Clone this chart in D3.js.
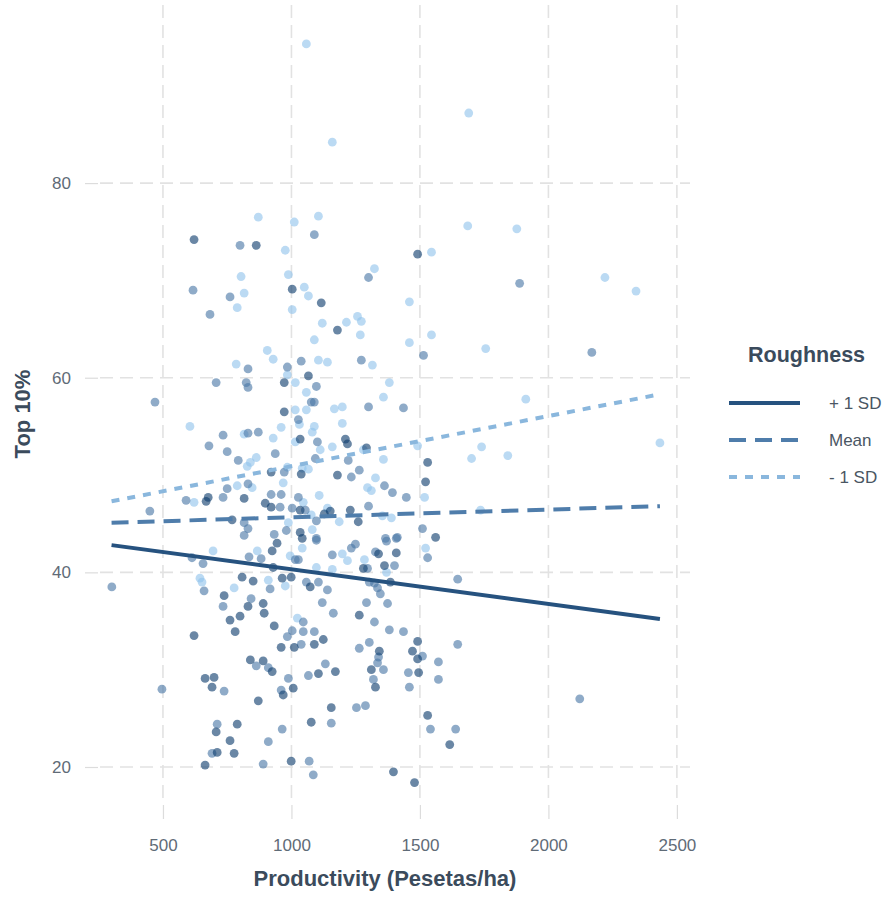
<!DOCTYPE html>
<html>
<head>
<meta charset="utf-8">
<script src="https://cdn.jsdelivr.net/npm/d3@7"></script>
<style>
body { margin: 0; background: #fff; }
text { font-family: "Liberation Sans", Arial, sans-serif; }
</style>
</head>
<body>
<svg id="chart" width="889" height="899"></svg>
<script>
var xTicks = [500, 1000, 1500, 2000, 2500];
var yTicks = [20, 40, 60, 80];
var groups = ["+ 1 SD", "Mean", "- 1 SD"];

// [productivity, top 10%]
var plusPts = [[621,74.2],[863,73.6],[1491,72.7],[1003,69.1],[972,59.5],[972,56.5],[921,50.3],[676,47.7],[668,47.3],[816,47.6],[898,47.1],[921,46.7],[769,45.4],
  [1116,67.7],[1179,64.9],[1066,60.2],[1034,53.7],[1210,53.7],[1218,53.2],[1292,52.8],[1530,51.3],[1038,50.1],[1179,50.0],[1522,49.3],[1034,46.4],[1151,46.3],[1128,46.0],[1229,46.4],[1260,45.2],[1034,44.1],[1561,43.6],
  [925,42.2],[944,43.0],[929,40.5],[808,39.5],[851,39.1],[964,39.4],[999,39.5],[738,37.6],[831,36.5],[890,36.8],[894,35.8],[800,35.5],[761,35.1],[781,33.9],[933,34.5],[621,33.5],[960,32.3],[1011,32.3],[840,31.0],[890,30.9],[925,29.8],[664,29.1],[699,29.2],[691,28.2],[871,26.8],[968,27.4],[1007,28.1],[707,23.6],[789,24.4],[761,22.7],[711,21.5],[777,21.4],[664,20.2],[999,20.6],
  [1042,43.5],[1280,40.4],[1339,41.9],[1408,42.0],[1362,40.7],[1385,39.0],[1073,38.5],[1264,35.6],[1124,33.1],[1089,32.6],[1342,31.9],[1311,30.0],[1327,28.2],[1491,32.9],[1471,31.9],[1491,31.1],[1495,29.7],[1105,29.6],[1171,29.8],[1155,26.1],[1077,24.6],[1530,25.3],[1616,22.3],[1397,19.5],[1479,18.4]];

var meanPts = [[800,73.6],[1089,74.7],[1300,70.3],[1888,69.7],[617,69.0],[683,66.5],[761,68.3],[831,60.9],[984,61.1],[707,59.5],[824,59.5],[831,59.0],[469,57.5],[734,54.1],[831,54.3],[871,54.4],[679,53.0],[750,52.4],[793,51.5],[937,52.2],[972,50.3],[831,49.1],[750,48.6],[734,47.7],[590,47.4],[921,48.0],[960,48.0],[956,46.7],[1003,46.6],[449,46.3],[816,45.1],[831,44.5],[816,43.8],[933,43.9],[980,44.3],
  [1514,62.3],[1038,61.7],[1272,61.8],[1097,59.1],[1077,57.5],[1089,57.5],[1300,57.0],[1436,56.9],[1027,55.7],[1101,53.4],[1093,51.7],[1221,51.5],[1233,49.8],[1264,50.5],[1362,48.9],[1393,48.2],[1447,47.7],[1027,47.7],[1300,46.8],[1054,46.4],[1097,45.3],[1510,44.5],[1412,43.6],[1366,43.5],[1097,43.5],
  [2169,62.6],
  [613,41.5],[656,40.9],[835,41.6],[882,41.4],[1015,41.3],[301,38.5],[660,38.1],[917,38.3],[734,36.5],[843,37.3],[984,33.4],[1003,34.0],[863,30.4],[910,30.2],[738,27.8],[496,28.0],[988,29.1],[960,27.9],[711,24.4],[910,22.6],[964,23.9],[691,21.4],[890,20.3],
  [1097,43.3],[1027,41.3],[1159,41.8],[1233,42.5],[1249,42.9],[1296,40.4],[1327,42.1],[1370,43.2],[1408,43.5],[1401,40.7],[1530,41.5],[1647,39.3],[1303,39.0],[1323,38.9],[1335,38.4],[1346,37.8],[1058,39.0],[1105,39.0],[1140,38.2],[1120,36.9],[1163,35.8],[1292,36.9],[1374,36.8],[1323,34.9],[1381,34.1],[1436,33.9],[1046,34.9],[1046,33.9],[1089,33.9],[1038,32.6],[1264,32.2],[1303,32.8],[1339,31.3],[1335,30.7],[1358,30.0],[1319,29.0],[1510,31.4],[1455,29.7],[1459,28.2],[1572,30.8],[1572,29.0],[1647,32.6],[1066,29.4],[1132,30.6],[1155,24.5],[1253,26.1],[1288,26.3],[1541,23.9],[1639,23.9],[1069,20.6],[1085,19.2],
  [2122,27.0]];

var minusPts = [[871,76.5],[1011,76.0],[976,73.1],[804,70.4],[988,70.6],[1058,94.3],[1159,84.2],[1690,87.2],[1686,75.6],[1105,76.6],[1545,72.9],[1323,71.2],[1877,75.3],[2220,70.3],[2341,68.9],
  [816,68.7],[789,67.2],[1003,67.0],[906,62.8],[929,61.9],[785,61.4],[984,60.3],[1015,59.5],[1015,56.7],[605,55.0],[816,54.2],[960,54.9],[929,53.8],[1015,53.4],[863,51.8],[840,51.3],[828,50.9],[984,50.8],[968,49.2],[789,48.9],[847,48.7],[621,47.2],[988,45.1],
  [1050,69.3],[1066,68.4],[1459,67.8],[1120,65.6],[1214,65.7],[1257,66.3],[1272,65.8],[1268,64.4],[1545,64.4],[1459,63.6],[1756,63.0],[1089,63.9],[1105,61.8],[1140,61.6],[1315,61.3],[1381,59.5],[1058,58.5],[1358,58.0],[1058,56.7],[1167,56.8],[1198,57.0],[1031,55.2],[1198,55.3],[1089,55.0],[1081,54.4],[1112,52.6],[1159,52.9],[1280,52.6],[1491,53.0],[1358,51.6],[1740,52.9],[1701,51.7],[1042,50.7],[1066,50.6],[1327,49.7],[1296,48.7],[1311,48.4],[1518,47.7],[1108,47.9],[1046,47.2],[1140,46.6],[1077,45.9],[1186,45.2],[1354,45.8],[1389,45.6],[1736,46.4],[1081,44.4],
  [1912,57.8],[1842,52.0],[2434,53.3],
  [695,42.2],[867,42.2],[995,41.7],[644,39.4],[652,39.0],[777,38.4],[910,39.2],[976,38.6],[1023,35.3],
  [1042,42.5],[1097,40.5],[1198,41.9],[1218,41.2],[1159,40.3],[1284,41.3],[1370,40.0],[1522,42.5]];

// fitted lines (end points)
var fitX = [300, 2434];
var plusFit = [42.8, 35.2];
var meanFit = [45.1, 46.8];
var minusFit = [47.3, 58.3];

var svg = d3.select("#chart");

var x = d3.scaleLinear().domain([255, 2551]).range([100, 690]);
var y = d3.scaleLinear().domain([16.3, 98.3]).range([803, 5]);

var gridColor = "#e2e2e2";

// grid
svg.append("g")
    .selectAll("line")
    .data(xTicks)
    .enter().append("line")
    .attr("x1", d => x(d)).attr("x2", d => x(d))
    .attr("y1", 5).attr("y2", 803)
    .attr("stroke", gridColor).attr("stroke-width", 1.6)
    .attr("stroke-dasharray", "13,7");

svg.append("g")
    .selectAll("line")
    .data(yTicks)
    .enter().append("line")
    .attr("x1", 100).attr("x2", 690)
    .attr("y1", d => y(d)).attr("y2", d => y(d))
    .attr("stroke", gridColor).attr("stroke-width", 1.6)
    .attr("stroke-dasharray", "13,7");

// axes
var xAxis = svg.append("g")
    .attr("transform", "translate(0,805)")
    .call(d3.axisBottom(x).tickValues(xTicks).tickFormat(d3.format("d")).tickSize(14).tickPadding(20));
var yAxis = svg.append("g")
    .attr("transform", "translate(98,0)")
    .call(d3.axisLeft(y).tickValues(yTicks).tickFormat(d3.format("d")).tickSize(13).tickPadding(14));

[xAxis, yAxis].forEach(function(g) {
    g.select(".domain").remove();
    g.selectAll(".tick line").attr("stroke", "#dcdcdc").attr("stroke-width", 1.2);
    g.selectAll(".tick text")
        .attr("fill", "#5f6b77")
        .style("font-size", "17px")
        .style("font-family", "'Liberation Sans', Arial, sans-serif");
});

// points
var colors = {"+ 1 SD": "#0f3d6e", "Mean": "#4a78a7", "- 1 SD": "#92c4ec"};
var sets = [["- 1 SD", minusPts], ["Mean", meanPts], ["+ 1 SD", plusPts]];

sets.forEach(function(s) {
    svg.append("g")
        .selectAll("circle")
        .data(s[1])
        .enter().append("circle")
        .attr("cx", d => x(d[0]))
        .attr("cy", d => y(d[1]))
        .attr("r", 4.4)
        .attr("fill", colors[s[0]])
        .attr("fill-opacity", 0.62);
});

// fitted lines
var lineStyles = {
    "+ 1 SD": {color: "#26527f", dash: null},
    "Mean": {color: "#4f7dab", dash: "17,9"},
    "- 1 SD": {color: "#8ab7dd", dash: "8,8"}
};
var fits = {"+ 1 SD": plusFit, "Mean": meanFit, "- 1 SD": minusFit};
var line = d3.line().x(d => x(d[0])).y(d => y(d[1]));

groups.slice().reverse().forEach(function(gname) {
    var pts = fitX.map((v, i) => [v, fits[gname][i]]);
    svg.append("path")
        .attr("d", line(pts))
        .attr("fill", "none")
        .attr("stroke", lineStyles[gname].color)
        .attr("stroke-width", 4)
        .attr("stroke-dasharray", lineStyles[gname].dash);
});

// axis titles
svg.append("text")
    .attr("x", 385).attr("y", 886)
    .attr("text-anchor", "middle")
    .attr("fill", "#3b4b5c")
    .style("font-size", "22px").style("font-weight", "bold")
    .text("Productivity (Pesetas/ha)");

svg.append("text")
    .attr("transform", "translate(30,414) rotate(-90)")
    .attr("text-anchor", "middle")
    .attr("fill", "#3b4b5c")
    .style("font-size", "22px").style("font-weight", "bold")
    .text("Top 10%");

// legend
var legend = svg.append("g");
legend.append("text")
    .attr("x", 748).attr("y", 362)
    .attr("fill", "#3b4b5c")
    .style("font-size", "21.5px").style("font-weight", "bold")
    .text("Roughness");

var legendY = d3.scalePoint().domain(groups).range([403, 477]);

groups.forEach(function(gname) {
    legend.append("line")
        .attr("x1", 729).attr("x2", 800)
        .attr("y1", legendY(gname)).attr("y2", legendY(gname))
        .attr("stroke", lineStyles[gname].color)
        .attr("stroke-width", 4)
        .attr("stroke-dasharray", lineStyles[gname].dash);
    legend.append("text")
        .attr("x", 829).attr("y", legendY(gname) + 6)
        .attr("fill", "#4a5663")
        .style("font-size", "17px")
        .text(gname);
});
</script>
</body>
</html>
